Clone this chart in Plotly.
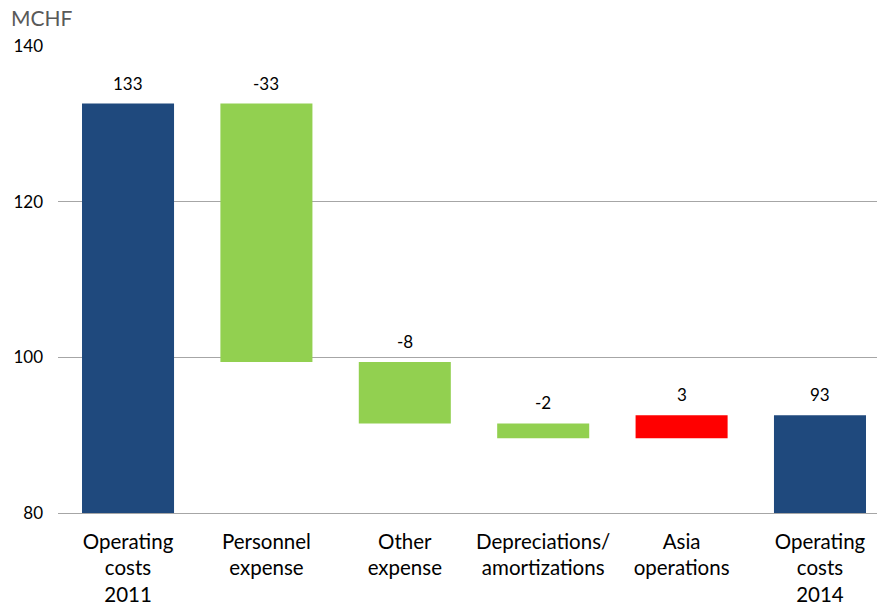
import plotly.graph_objects as go

categories = ["Operating<br>costs<br>2011", "Personnel<br>expense", "Other<br>expense",
              "Depreciations/<br>amortizations", "Asia<br>operations", "Operating<br>costs<br>2014"]
measures = ["absolute", "relative", "relative", "relative", "relative", "total"]
values = [132.6, -33.2, -7.9, -1.9, 2.95, 0]
labels = ["133", "-33", "-8", "-2", "3", "93"]

NAVY = "#1F497D"
GREEN = "#92D050"
RED = "#FF0000"
FONT = "Lato, Carlito, Calibri, sans-serif"

fig = go.Figure(go.Waterfall(
    x=list(range(len(categories))),
    measure=measures,
    y=values,
    base=0,
    width=0.665,
    connector=dict(visible=False),
    increasing=dict(marker=dict(color=RED)),
    decreasing=dict(marker=dict(color=GREEN)),
    totals=dict(marker=dict(color=NAVY)),
    hoverinfo="skip",
))

# Label positions: top of each bar from running cumulative values
cum = 0
tops = []
for m, v in zip(measures, values):
    if m == "absolute":
        cum = v
        tops.append(v)
    elif m == "relative":
        prev = cum
        cum = cum + v
        tops.append(max(prev, cum))
    else:
        tops.append(cum)

for i, (t, lab) in enumerate(zip(tops, labels)):
    fig.add_annotation(x=i, y=t, text=lab, showarrow=False, yanchor="bottom",
                       yshift=8, font=dict(family=FONT, size=17, color="#000000"))

fig.add_annotation(xref="paper", yref="paper", x=-0.06, y=1.0, xanchor="left", yanchor="bottom",
                   yshift=14, text="MCHF", showarrow=False,
                   font=dict(family=FONT, size=21, color="#595959"))

fig.update_layout(
    width=877, height=607,
    margin=dict(l=58, r=0, t=46, b=94),
    paper_bgcolor="white", plot_bgcolor="white",
    showlegend=False,
    font=dict(family=FONT, size=17, color="#000000"),
)
fig.update_xaxes(
    tickmode="array", tickvals=list(range(len(categories))), ticktext=categories,
    range=[-0.506, 5.412], showgrid=False, zeroline=False,
    showline=True, linecolor="#a6a6a6", linewidth=1,
    tickfont=dict(family=FONT, size=20.5, color="#000000"),
    ticks="", ticklabelstandoff=10,
)
fig.update_yaxes(
    range=[80, 140], tickvals=[80, 100, 120, 140], showgrid=True,
    gridcolor="#a6a6a6", gridwidth=1, zeroline=False, showline=False,
    tickfont=dict(family=FONT, size=17, color="#000000"),
    ticks="", ticklabelstandoff=14,
)

fig.write_html("out.html")
